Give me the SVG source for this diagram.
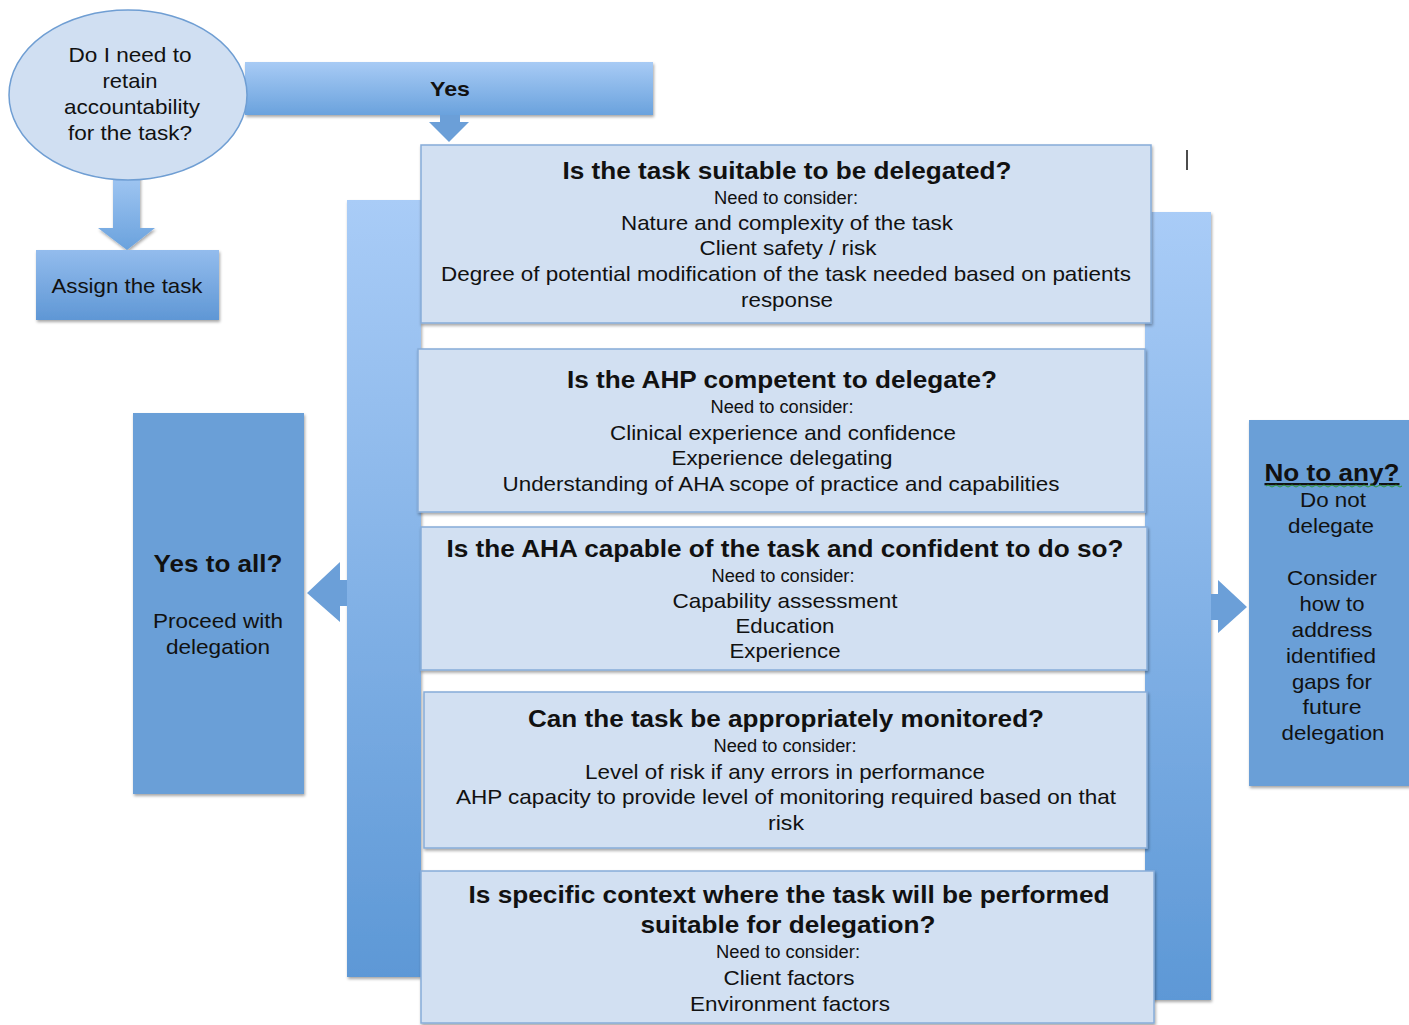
<svg xmlns="http://www.w3.org/2000/svg" width="1409" height="1025" viewBox="0 0 1409 1025">
<defs>
<linearGradient id="gv" x1="0" y1="0" x2="0" y2="1">
<stop offset="0" stop-color="#a9ccf7"/>
<stop offset="1" stop-color="#5d98d6"/>
</linearGradient>
<linearGradient id="gh" x1="0" y1="0" x2="0" y2="1">
<stop offset="0" stop-color="#a8cbf5"/>
<stop offset="1" stop-color="#6aa2dd"/>
</linearGradient>
<linearGradient id="ga" x1="0" y1="0" x2="0" y2="1">
<stop offset="0" stop-color="#93bced"/>
<stop offset="1" stop-color="#5f97d5"/>
</linearGradient>
<filter id="sh" x="-5%" y="-5%" width="110%" height="115%">
<feDropShadow dx="1" dy="2" stdDeviation="1.5" flood-color="#000" flood-opacity="0.35"/>
</filter>
<style>
.box{fill:#d2e0f2;stroke:#86acd9;stroke-width:1.5;filter:url(#sh)}
.bar{fill:url(#gv);filter:url(#sh)}
.dark{fill:#6a9fd7;filter:url(#sh)}
.arr{fill:#6b9fd8}
text{font-family:"Liberation Sans",Arial,sans-serif;fill:#111;text-anchor:middle}
.t{font-size:23px;font-weight:bold}
.b{font-size:21px}
.n{font-size:18px}
.s{font-size:21px}
</style>
</defs>

<g id="connectors">
<rect x="245" y="62" width="408" height="53" fill="url(#gh)" filter="url(#sh)"/>
<path class="arr" d="M440,115 H460 V122 H469 L449,142 L429,122 H440 Z"/>
<path d="M113,165 H140 V228 H155 L127,250 L98,228 H113 Z" fill="url(#gh)" filter="url(#sh)"/>
<rect class="bar" x="347" y="200" width="74" height="777"/>
<rect class="bar" x="1145" y="212" width="66" height="788"/>
<path class="arr" d="M347,580 V606 H340 V622 L307,593 L340,562 V580 Z"/>
<path class="arr" d="M1211,594 H1218 V580 L1247,607 L1218,633 V620 H1211 Z"/>
<line x1="1187" y1="150" x2="1187" y2="170" stroke="#111" stroke-width="1.5"/>
</g>

<g id="start">
<ellipse cx="128" cy="95" rx="119" ry="85" fill="#d0dff2" stroke="#6f9ed3" stroke-width="1.5"/>
<text class="s" x="130" y="62" textLength="123" lengthAdjust="spacingAndGlyphs">Do I need to</text>
<text class="s" x="130" y="88" textLength="55" lengthAdjust="spacingAndGlyphs">retain</text>
<text class="s" x="132" y="114" textLength="136" lengthAdjust="spacingAndGlyphs">accountability</text>
<text class="s" x="130" y="140" textLength="124" lengthAdjust="spacingAndGlyphs">for the task?</text>
</g>

<g id="yes-label">
<text class="b" x="450" y="96" font-weight="bold" textLength="40" lengthAdjust="spacingAndGlyphs">Yes</text>
</g>

<g id="assign">
<rect x="36" y="250" width="183" height="70" fill="url(#ga)" filter="url(#sh)"/>
<text class="s" x="127" y="293" textLength="151" lengthAdjust="spacingAndGlyphs">Assign the task</text>
</g>

<g id="q1">
<rect class="box" x="421" y="145" width="730" height="178"/>
<text class="t" x="787" y="179" textLength="449" lengthAdjust="spacingAndGlyphs">Is the task suitable to be delegated?</text>
<text class="n" x="786" y="204" textLength="144" lengthAdjust="spacingAndGlyphs">Need to consider:</text>
<text class="b" x="787" y="230" textLength="332" lengthAdjust="spacingAndGlyphs">Nature and complexity of the task</text>
<text class="b" x="788" y="255" textLength="177" lengthAdjust="spacingAndGlyphs">Client safety / risk</text>
<text class="b" x="786" y="281" textLength="690" lengthAdjust="spacingAndGlyphs">Degree of potential modification of the task needed based on patients</text>
<text class="b" x="787" y="307" textLength="92" lengthAdjust="spacingAndGlyphs">response</text>
</g>

<g id="q2">
<rect class="box" x="418" y="349" width="727" height="163"/>
<text class="t" x="782" y="388" textLength="430" lengthAdjust="spacingAndGlyphs">Is the AHP competent to delegate?</text>
<text class="n" x="782" y="413" textLength="143" lengthAdjust="spacingAndGlyphs">Need to consider:</text>
<text class="b" x="783" y="440" textLength="346" lengthAdjust="spacingAndGlyphs">Clinical experience and confidence</text>
<text class="b" x="782" y="465" textLength="221" lengthAdjust="spacingAndGlyphs">Experience delegating</text>
<text class="b" x="781" y="491" textLength="557" lengthAdjust="spacingAndGlyphs">Understanding of AHA scope of practice and capabilities</text>
</g>

<g id="q3">
<rect class="box" x="421" y="527" width="726" height="143"/>
<text class="t" x="785" y="557" textLength="677" lengthAdjust="spacingAndGlyphs">Is the AHA capable of the task and confident to do so?</text>
<text class="n" x="783" y="582" textLength="143" lengthAdjust="spacingAndGlyphs">Need to consider:</text>
<text class="b" x="785" y="608" textLength="225" lengthAdjust="spacingAndGlyphs">Capability assessment</text>
<text class="b" x="785" y="633" textLength="99" lengthAdjust="spacingAndGlyphs">Education</text>
<text class="b" x="785" y="658" textLength="111" lengthAdjust="spacingAndGlyphs">Experience</text>
</g>

<g id="q4">
<rect class="box" x="424" y="692" width="723" height="156"/>
<text class="t" x="786" y="727" textLength="516" lengthAdjust="spacingAndGlyphs">Can the task be appropriately monitored?</text>
<text class="n" x="785" y="752" textLength="143" lengthAdjust="spacingAndGlyphs">Need to consider:</text>
<text class="b" x="785" y="779" textLength="400" lengthAdjust="spacingAndGlyphs">Level of risk if any errors in performance</text>
<text class="b" x="786" y="804" textLength="660" lengthAdjust="spacingAndGlyphs">AHP capacity to provide level of monitoring required based on that</text>
<text class="b" x="786" y="830" textLength="36" lengthAdjust="spacingAndGlyphs">risk</text>
</g>

<g id="q5">
<rect class="box" x="421" y="871" width="733" height="152"/>
<text class="t" x="789" y="903" textLength="641" lengthAdjust="spacingAndGlyphs">Is specific context where the task will be performed</text>
<text class="t" x="788" y="933" textLength="295" lengthAdjust="spacingAndGlyphs">suitable for delegation?</text>
<text class="n" x="788" y="958" textLength="144" lengthAdjust="spacingAndGlyphs">Need to consider:</text>
<text class="b" x="789" y="985" textLength="131" lengthAdjust="spacingAndGlyphs">Client factors</text>
<text class="b" x="790" y="1011" textLength="200" lengthAdjust="spacingAndGlyphs">Environment factors</text>
</g>

<g id="yes-all">
<rect class="dark" x="133" y="413" width="171" height="381"/>
<text class="t" x="218" y="572" textLength="129" lengthAdjust="spacingAndGlyphs">Yes to all?</text>
<text class="s" x="218" y="628" textLength="130" lengthAdjust="spacingAndGlyphs">Proceed with</text>
<text class="s" x="218" y="654" textLength="104" lengthAdjust="spacingAndGlyphs">delegation</text>
</g>

<g id="no-any">
<rect class="dark" x="1249" y="420" width="165" height="366"/>
<text class="t" x="1332" y="481" textLength="135" lengthAdjust="spacingAndGlyphs" text-decoration="underline">No to any?</text>
<path d="M1266,486 q2,-2 4,0 t4,0 t4,0 t4,0 t4,0 t4,0 t4,0 t4,0 t4,0 t4,0 t4,0 t4,0 t4,0 t4,0 t4,0 t4,0 t4,0 t4,0 t4,0 t4,0 t4,0 t4,0 t4,0 t4,0 t4,0 t4,0 t4,0 t4,0 t4,0 t4,0 t4,0 t4,0 t4,0 t4,0" fill="none" stroke="#2e9a3a" stroke-width="1"/>
<text class="s" x="1333" y="507" textLength="66" lengthAdjust="spacingAndGlyphs">Do not</text>
<text class="s" x="1331" y="533" textLength="86" lengthAdjust="spacingAndGlyphs">delegate</text>
<text class="s" x="1332" y="585" textLength="90" lengthAdjust="spacingAndGlyphs">Consider</text>
<text class="s" x="1332" y="611" textLength="65" lengthAdjust="spacingAndGlyphs">how to</text>
<text class="s" x="1332" y="637" textLength="81" lengthAdjust="spacingAndGlyphs">address</text>
<text class="s" x="1331" y="663" textLength="90" lengthAdjust="spacingAndGlyphs">identified</text>
<text class="s" x="1332" y="689" textLength="80" lengthAdjust="spacingAndGlyphs">gaps for</text>
<text class="s" x="1332" y="714" textLength="59" lengthAdjust="spacingAndGlyphs">future</text>
<text class="s" x="1333" y="740" textLength="103" lengthAdjust="spacingAndGlyphs">delegation</text>
</g>
</svg>
